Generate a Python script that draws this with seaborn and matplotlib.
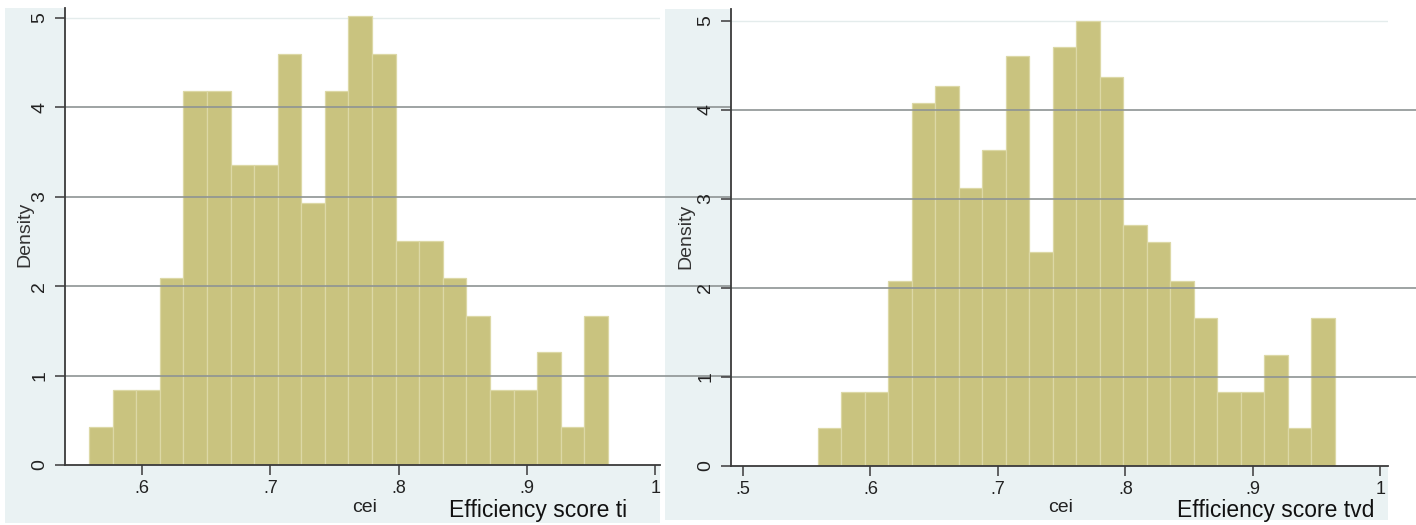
import numpy as np
import pandas as pd
import matplotlib
matplotlib.use("Agg")
import matplotlib.pyplot as plt
from matplotlib.patches import Rectangle
import seaborn as sns

# Histogram densities (22 equal-width bins per panel)
dens_ti = [0.42, 0.84, 0.84, 2.09, 4.18, 4.18, 3.35, 3.35, 4.60, 2.93, 4.18,
           5.02, 4.60, 2.51, 2.51, 2.09, 1.67, 0.84, 0.84, 1.26, 0.42, 1.67]
dens_tvd = [0.43, 0.83, 0.83, 2.08, 4.07, 4.27, 3.12, 3.55, 4.60, 2.40, 4.70,
            5.00, 4.37, 2.70, 2.51, 2.08, 1.66, 0.83, 0.83, 1.25, 0.43, 1.66]
range_ti = (0.5587, 0.9631)
range_tvd = (0.5585, 0.9642)

xticks_ti = [0.6, 0.7, 0.8, 0.9, 1.0]
xticklabels_ti = [".6", ".7", ".8", ".9", "1"]
xticks_tvd = [0.5, 0.6, 0.7, 0.8, 0.9, 1.0]
xticklabels_tvd = [".5", ".6", ".7", ".8", ".9", "1"]
yticks = [0, 1, 2, 3, 4, 5]
yticklabels = ["0", "1", "2", "3", "4", "5"]
xlabel = "cei"
ylabel = "Density"
notes = ["Efficiency score ti", "Efficiency score tvd"]

sns.set_style("white")
plt.rcParams["font.family"] = ["Liberation Sans", "DejaVu Sans"]

W, H = 1416, 525
BAR = "#C9C37F"
BAR_EDGE = "#DCD8A6"
REGION = "#EAF2F3"
GRID = "#8E9494"
AXIS = "#3A3A3A"

fig = plt.figure(figsize=(W / 100, H / 100), dpi=100)
fig.patch.set_facecolor("white")


def fx(px):
    return px / W


def fy(py):
    return 1 - py / H


def add_region(x0, y0, x1, y1):
    fig.patches.append(Rectangle((fx(x0), fy(y1)), (x1 - x0) / W, (y1 - y0) / H,
                                 transform=fig.transFigure, facecolor=REGION,
                                 edgecolor="none", zorder=-10))


add_region(5, 8, 660, 523)
add_region(665, 9, 1388, 520)

panels = [
    dict(box=(65, 8, 660, 465), xlim=(0.540, 1.0037), ylim=(0, 5.11),
         dens=dens_ti, rng=range_ti, xt=xticks_ti, xtl=xticklabels_ti,
         grid_to=731, cei_x=365, note=notes[0], note_x=627,
         ylab_x=33, ylab_y=234),
    dict(box=(731, 9, 1388, 466), xlim=(0.4906, 1.0059), ylim=(0, 5.13),
         dens=dens_tvd, rng=range_tvd, xt=xticks_tvd, xtl=xticklabels_tvd,
         grid_to=1416, cei_x=1061, note=notes[1], note_x=1374,
         ylab_x=694, ylab_y=236),
]

for p in panels:
    x0, y0, x1, y1 = p["box"]
    ax = fig.add_axes([fx(x0), fy(y1), (x1 - x0) / W, (y1 - y0) / H])
    ax.set_facecolor("white")

    edges = np.linspace(p["rng"][0], p["rng"][1], len(p["dens"]) + 1)
    df = pd.DataFrame({"cei": (edges[:-1] + edges[1:]) / 2,
                       "density": p["dens"]})
    sns.histplot(data=df, x="cei", weights="density", bins=list(edges),
                 stat="count", color=BAR, edgecolor=BAR_EDGE, linewidth=0.9,
                 alpha=1.0, ax=ax, zorder=2)

    ax.set_xlim(*p["xlim"])
    ax.set_ylim(*p["ylim"])

    # horizontal grid lines, drawn over the bars
    ext = (p["grid_to"] - x0) / (x1 - x0)
    for y in yticks[1:-1]:
        ax.axhline(y, xmin=0, xmax=ext, color=GRID, lw=1.2, zorder=5,
                   clip_on=False)
    ax.axhline(yticks[-1], xmin=0, xmax=1, color="#E4ECEC", lw=1.0, zorder=1)

    for s in ("top", "right"):
        ax.spines[s].set_visible(False)
    for s in ("left", "bottom"):
        ax.spines[s].set_color(AXIS)
        ax.spines[s].set_linewidth(1.3)
        ax.spines[s].set_zorder(6)

    ax.set_xticks(p["xt"])
    ax.set_xticklabels(p["xtl"], fontsize=13)
    ax.set_yticks(yticks)
    ax.set_yticklabels(yticklabels, fontsize=14, rotation=90, va="center")
    ax.tick_params(axis="both", direction="out", length=7, width=1.1,
                   color=AXIS, labelcolor="#222222", bottom=True, left=True)
    ax.tick_params(axis="x", pad=4)
    ax.tick_params(axis="y", pad=5)

    ax.set_xlabel(xlabel, fontsize=14, color="#222222")
    ax.xaxis.set_label_coords((p["cei_x"] - x0) / (x1 - x0),
                              -(499 - y1) / (y1 - y0))
    ax.set_ylabel(ylabel, fontsize=14, color="#333333")
    ax.yaxis.set_label_coords((p["ylab_x"] - x0) / (x1 - x0),
                              (y1 - p["ylab_y"]) / (y1 - y0))

    fig.text(fx(p["note_x"]), fy(517), p["note"], ha="right", va="baseline",
             fontsize=16.5, color="#111111")

fig.savefig("out.png", dpi=100)
